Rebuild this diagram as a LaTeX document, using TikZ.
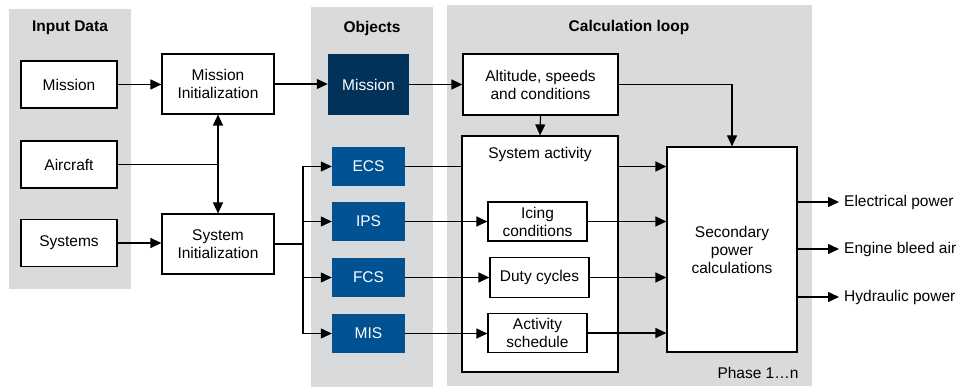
\documentclass[tikz,border=0pt]{standalone}
\usepackage{fontspec}
\setmainfont{Liberation Sans}
\usetikzlibrary{arrows.meta}
\definecolor{panel}{HTML}{D9DADC}
\definecolor{navy}{HTML}{00325A}
\definecolor{objblue}{HTML}{005293}
\begin{document}
\begin{tikzpicture}[x=1pt,y=-1pt, font=\fontsize{15.5}{18}\selectfont,
 box/.style={draw=black, line width=1.2pt, fill=white, align=center, inner sep=0pt},
 obj/.style={fill=objblue, text=white, inner sep=0pt, minimum width=73pt, minimum height=39pt},
 conn/.style={line width=1.2pt, -{Triangle[length=11pt,width=10pt]}},
 plain/.style={line width=1.2pt},
 ttl/.style={font=\fontsize{15.5}{18}\selectfont\bfseries},
 lbl/.style={anchor=west, inner sep=0pt}]
\useasboundingbox (0,0) rectangle (960,387);
% panels
\fill[panel] (9,9) rectangle (131,289);
\fill[panel] (311,7) rectangle (433,387);
\fill[panel] (447,5) rectangle (812,386);
\node[ttl] (t1) at (70,28) {Input Data};
\node[ttl] (t2) at (372,28) {Objects};
\node[ttl] (t3) at (629,27) {Calculation loop};
% input data
\node[box, minimum width=96pt, minimum height=47pt] (mi) at (69,84.5) {Mission};
\node[box, minimum width=96pt, minimum height=47pt] (ac) at (69,164.5) {Aircraft};
\node[box, minimum width=96pt, minimum height=47pt] (sy) at (69,243) {Systems};
% initialization
\node[box, minimum width=112pt, minimum height=60pt] (minit) at (218,84) {Mission\\Initialization};
\node[box, minimum width=112pt, minimum height=60pt] (sinit) at (218,244) {System\\Initialization};
% objects
\node[fill=navy, text=white, inner sep=0pt, minimum width=81pt, minimum height=61pt] (mo) at (368.5,84.5) {Mission};
\node[obj] (ecs) at (368.5,166.5) {ECS};
\node[obj] (ips) at (368.5,221.5) {IPS};
\node[obj] (fcs) at (368.5,277.5) {FCS};
\node[obj] (mis) at (368.5,333.5) {MIS};
% calculation loop
\node[box, minimum width=155pt, minimum height=61pt] (alt) at (540.5,84.5) {Altitude, speeds\\and conditions};
\node[box, minimum width=156pt, minimum height=236pt] (sa) at (540,254) {};
\node[inner sep=0pt] (satxt) at (540,154) {System activity};
\node[box, minimum width=99pt, minimum height=39pt] (icing) at (537.5,221.5) {Icing\\conditions};
\node[box, minimum width=99pt, minimum height=40pt] (duty) at (539.5,277.5) {Duty cycles};
\node[box, minimum width=99pt, minimum height=39pt] (act) at (537.5,333) {Activity\\schedule};
\node[box, minimum width=130pt, minimum height=205pt] (sec) at (732,249.5) {Secondary\\power\\calculations};
\node[inner sep=0pt] (phase) at (758,373) {Phase 1…n};
% outputs
\node[lbl] (o1) at (844,202) {Electrical power};
\node[lbl] (o2) at (844,249) {Engine bleed air};
\node[lbl] (o3) at (844,297) {Hydraulic power};
% connectors
\draw[conn] (mi.east) -- (mi.east -| minit.west);
\draw[conn] (minit.east) -- (minit.east -| mo.west);
\draw[conn] (mo.east) -- (mo.east -| alt.west);
\draw[conn] (sy.east) -- (sy.east -| sinit.west);
\coordinate (j1) at (ac.east -| minit.south);
\draw[plain] (ac.east) -- (j1);
\draw[line width=1.2pt, {Triangle[length=11pt,width=10pt]}-{Triangle[length=11pt,width=10pt]}] (minit.south) -- (sinit.north);
\coordinate (br) at (303,244);
\draw[line width=2pt] (sinit.east |- br) -- (br);
\draw[plain] (br |- ecs) -- (br |- mis);
\draw[conn] (br |- ecs) -- (ecs.west);
\draw[conn] (br |- ips) -- (ips.west);
\draw[conn] (br |- fcs) -- (fcs.west);
\draw[conn] (br |- mis) -- (mis.west);
\draw[plain] (ecs.east) -- (ecs.east -| sa.west);
\draw[conn] (ips.east) -- (ips.east -| icing.west);
\draw[conn] (fcs.east) -- (fcs.east -| duty.west);
\draw[conn] (mis.east) -- (mis.east -| act.west);
\draw[conn] (alt.south) -- (sa.north);
\draw[conn] (alt.east) -| (sec.north);
\draw[conn] (sa.east |- ecs) -- (sec.west |- ecs);
\draw[conn] (icing.east) -- (sec.west |- icing);
\draw[conn] (duty.east) -- (sec.west |- duty);
\draw[conn] (act.east) -- (sec.west |- act);
\draw[conn, shorten >=5pt] (sec.east |- o1) -- (o1.west);
\draw[conn, shorten >=5pt] (sec.east |- o2) -- (o2.west);
\draw[conn, shorten >=5pt] (sec.east |- o3) -- (o3.west);
\end{tikzpicture}
\end{document}
